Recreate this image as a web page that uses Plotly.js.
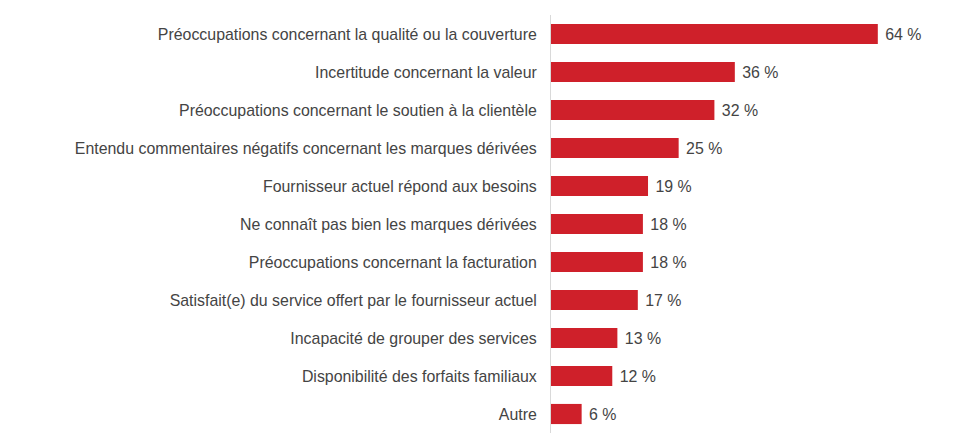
<!DOCTYPE html>
<html>
<head>
<meta charset="utf-8">
<script src="https://cdn.plot.ly/plotly-3.0.1.min.js"></script>
<style>html,body{margin:0;padding:0;background:#fff;}#chart{width:960px;height:447px;}</style>
</head>
<body>
<div id="chart"></div>
<script>
const categories = [
  "Préoccupations concernant la qualité ou la couverture",
  "Incertitude concernant la valeur",
  "Préoccupations concernant le soutien à la clientèle",
  "Entendu commentaires négatifs concernant les marques dérivées",
  "Fournisseur actuel répond aux besoins",
  "Ne connaît pas bien les marques dérivées",
  "Préoccupations concernant la facturation",
  "Satisfait(e) du service offert par le fournisseur actuel",
  "Incapacité de grouper des services",
  "Disponibilité des forfaits familiaux",
  "Autre"
];
const values = [64, 36, 32, 25, 19, 18, 18, 17, 13, 12, 6];
const valueLabels = values.map(v => " " + v + " %");

const FONT = "Liberation Sans, Arial, sans-serif";

const trace = {
  type: "bar",
  orientation: "h",
  y: categories,
  x: values,
  text: valueLabels,
  textposition: "outside",
  cliponaxis: false,
  textfont: {family: FONT, size: 15.9, color: "#444444"},
  marker: {color: "#cf202a"},
  hoverinfo: "none"
};

const layout = {
  width: 960,
  height: 447,
  margin: {l: 551, r: 1, t: 15, b: 14, pad: 0},
  paper_bgcolor: "#ffffff",
  plot_bgcolor: "#ffffff",
  bargap: 0.47,
  showlegend: false,
  font: {family: FONT, size: 15.9, color: "#444444"},
  xaxis: {
    range: [0, 79.9],
    showgrid: false,
    zeroline: false,
    showticklabels: false,
    showline: false,
    fixedrange: true
  },
  yaxis: {
    autorange: "reversed",
    showgrid: false,
    zeroline: false,
    showline: true,
    linecolor: "#d9d9d9",
    linewidth: 1,
    ticks: "",
    ticklabelstandoff: 10,
    tickfont: {family: FONT, size: 15.9, color: "#444444"},
    automargin: false,
    fixedrange: true
  }
};

Plotly.newPlot("chart", [trace], layout, {displayModeBar: false, staticPlot: true});
</script>
</body>
</html>
